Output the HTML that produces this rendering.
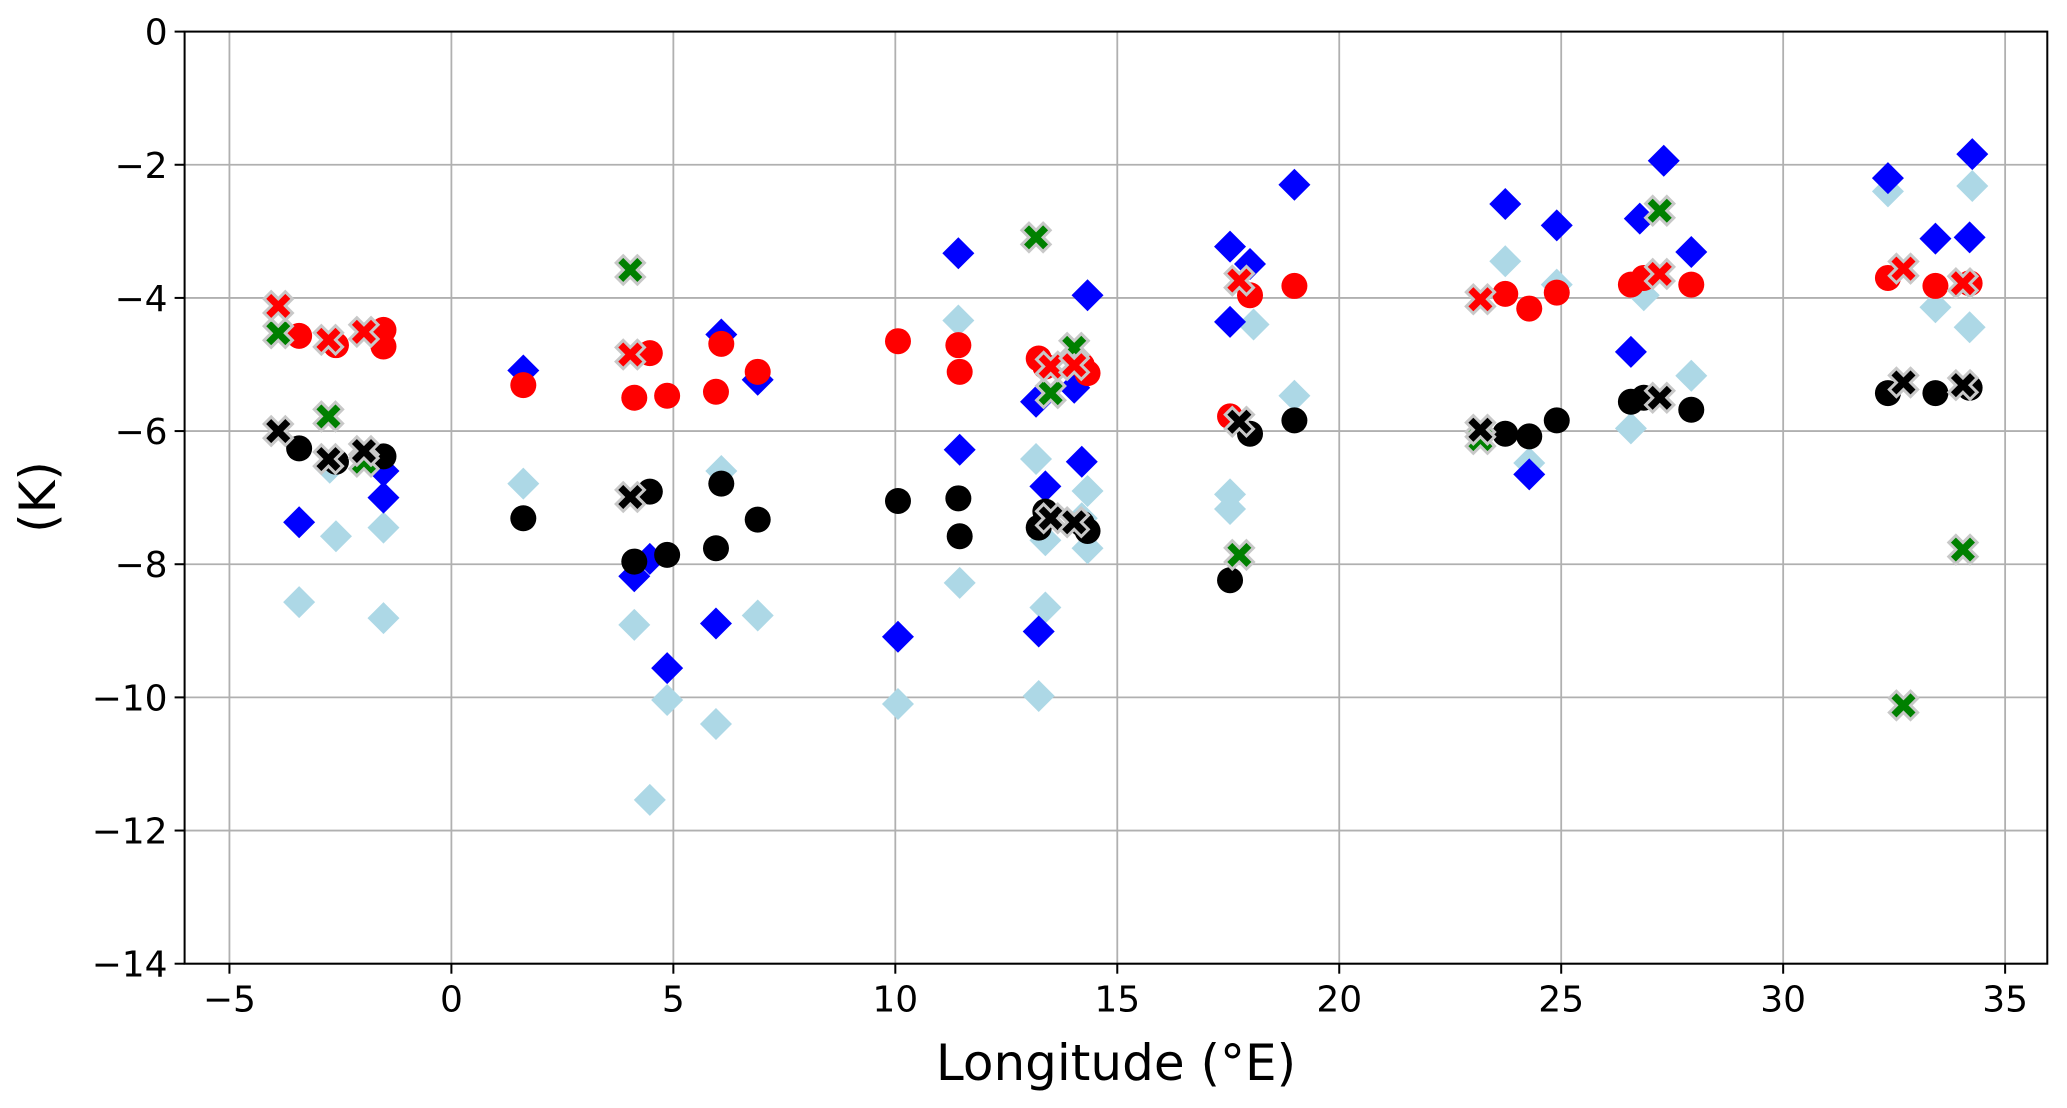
<!DOCTYPE html>
<html><head><meta charset="utf-8"><style>
html,body{margin:0;padding:0;background:#fff;}
svg{display:block;font-family:"DejaVu Sans","Liberation Sans",sans-serif;}
</style></head><body>
<svg id="chart" width="2067" height="1108" viewBox="0 0 2067 1108" xmlns="http://www.w3.org/2000/svg">
<g id="grid"></g>
<g id="marks"></g>
<rect x="184.6" y="31.6" width="1862.7" height="932.1" fill="none" stroke="#000" stroke-width="2"/>
<g id="ticks"></g>
<text x="1116" y="1080" font-size="50" text-anchor="middle">Longitude (°E)</text>
<text transform="translate(55,497) rotate(-90)" font-size="50" text-anchor="middle">(K)</text>
</svg>
<script>
const xTicks=[-5,0,5,10,15,20,25,30,35];
const yTicks=[0,-2,-4,-6,-8,-10,-12,-14];
const xTickLabels=["−5","0","5","10","15","20","25","30","35"];
const yTickLabels=["0","−2","−4","−6","−8","−10","−12","−14"];
const lbX=[-3.43,-2.6,-1.53,-1.53,-2.74,1.62,4.12,4.47,4.86,5.96,6.08,6.9,10.06,11.42,11.45,13.17,13.23,13.38,13.38,14.2,14.33,14.33,17.54,17.54,18.07,18.99,23.74,24.28,24.9,26.57,26.86,27.93,32.36,33.43,34.2,34.26];
const lbY=[-8.57,-7.58,-7.45,-8.81,-6.55,-6.79,-8.91,-11.54,-10.04,-10.4,-6.6,-8.77,-10.1,-4.34,-8.28,-6.42,-9.98,-8.65,-7.64,-7.31,-6.9,-7.76,-6.95,-7.17,-4.4,-5.47,-3.45,-6.48,-3.8,-5.96,-3.96,-5.17,-2.4,-4.14,-4.44,-2.32];
const bX=[-3.43,-1.53,-1.53,1.62,4.12,4.47,4.86,5.96,6.08,6.9,10.06,11.42,11.45,13.17,13.23,13.38,14.03,14.2,14.33,17.54,17.54,17.99,18.99,23.74,24.28,24.9,26.57,26.77,27.31,27.93,32.36,33.43,34.2,34.26];
const bY=[-7.37,-7.0,-6.6,-5.09,-8.18,-7.92,-9.56,-8.89,-4.55,-5.23,-9.09,-3.33,-6.28,-5.56,-9.01,-6.83,-5.35,-6.46,-3.96,-3.23,-4.36,-3.49,-2.3,-2.59,-6.65,-2.91,-4.81,-2.81,-1.94,-3.31,-2.2,-3.11,-3.09,-1.84];
const rcX=[-3.43,-2.6,-1.53,-1.53,1.62,4.12,4.47,4.86,5.96,6.08,6.9,10.06,11.42,11.45,13.23,13.38,14.2,14.33,17.54,17.99,18.99,23.74,24.28,24.9,26.57,26.86,27.93,32.36,33.43,34.2];
const rcY=[-4.57,-4.71,-4.48,-4.73,-5.31,-5.5,-4.83,-5.47,-5.41,-4.69,-5.11,-4.65,-4.71,-5.11,-4.91,-5.03,-5.01,-5.13,-5.78,-3.96,-3.82,-3.94,-4.16,-3.92,-3.8,-3.7,-3.8,-3.7,-3.82,-3.78];
const kcX=[-3.43,-2.6,-1.53,1.62,4.12,4.47,4.86,5.96,6.08,6.9,10.06,11.42,11.45,13.23,13.38,14.2,14.33,17.54,17.99,18.99,23.74,24.28,24.9,26.57,26.86,27.93,32.36,33.43,34.2];
const kcY=[-6.26,-6.46,-6.38,-7.31,-7.96,-6.91,-7.86,-7.76,-6.79,-7.33,-7.05,-7.01,-7.58,-7.45,-7.21,-7.39,-7.5,-8.24,-6.04,-5.84,-6.04,-6.08,-5.84,-5.56,-5.5,-5.68,-5.43,-5.43,-5.35];
const rxX=[-3.9,-2.77,-1.97,4.03,13.5,14.03,17.75,23.18,27.22,32.71,34.05];
const rxY=[-4.12,-4.63,-4.51,-4.85,-5.03,-5.01,-3.74,-4.02,-3.64,-3.56,-3.78];
const kxX=[-3.9,-2.77,-1.97,4.03,13.5,14.03,17.75,23.18,27.22,32.71,34.05];
const kxY=[-6.0,-6.42,-6.3,-6.99,-7.31,-7.37,-5.86,-5.98,-5.5,-5.27,-5.31];
const gxX=[-3.9,-2.77,-1.97,4.03,13.17,13.5,14.03,17.75,23.18,27.22,32.71,34.05];
const gxY=[-4.53,-5.78,-6.46,-3.58,-3.09,-5.43,-4.75,-7.86,-6.12,-2.69,-10.12,-7.78];

const L=184.6,R=2047.3,T=31.6,B=963.7,X0=-6.01,X1=35.95,Y0=-14,Y1=0;
const sx=v=>L+(v-X0)/(X1-X0)*(R-L);
const sy=v=>B-(v-Y0)/(Y1-Y0)*(B-T);
const NS="http://www.w3.org/2000/svg";
function mk(tag,attrs,parent){const e=document.createElementNS(NS,tag);for(const k in attrs)e.setAttribute(k,attrs[k]);parent.appendChild(e);return e;}
const grid=document.getElementById('grid'),ticks=document.getElementById('ticks'),marks=document.getElementById('marks');
xTicks.forEach((t,i)=>{
  const x=sx(t);
  const g=mk('line',{x1:x,x2:x,y1:T,y2:B,stroke:'#b0b0b0','stroke-width':1.8},grid);
  
  
  const tk=mk('line',{x1:x,x2:x,y1:B,y2:B+10,stroke:'#000','stroke-width':2},ticks);
  
  
  const lb=mk('text',{x:x,y:B+48,'font-size':36,'text-anchor':'middle'},ticks);
  lb.textContent=xTickLabels[i];
  
  
});
yTicks.forEach((t,i)=>{
  const y=sy(t);
  const g=mk('line',{x1:L,x2:R,y1:y,y2:y,stroke:'#b0b0b0','stroke-width':1.8},grid);
  
  
  const tk=mk('line',{x1:L-10,x2:L,y1:y,y2:y,stroke:'#000','stroke-width':2},ticks);
  
  
  const lb=mk('text',{x:L-17,y:y+13,'font-size':36,'text-anchor':'end'},ticks);
  lb.textContent=yTickLabels[i];
  
  
});
function diamonds(xs,ys,color,name){
  xs.forEach((v,i)=>{const x=sx(v),y=sy(ys[i]),r=16;
    const p=mk('polygon',{points:`${x},${y-r} ${x+r},${y} ${x},${y+r} ${x-r},${y}`,fill:color},marks);
    
    });
}
function circles(xs,ys,color,name){
  xs.forEach((v,i)=>{
    const c=mk('circle',{cx:sx(v),cy:sy(ys[i]),r:13,fill:color},marks);
    
    });
}
function crosses(xs,ys,color,name){
  const r=15,w=5;
  const pts=[[-w,-r],[w,-r],[w,-w],[r,-w],[r,w],[w,w],[w,r],[-w,r],[-w,w],[-r,w],[-r,-w],[-w,-w]].map(p=>p.join(',')).join(' ');
  xs.forEach((v,i)=>{
    const p=mk('polygon',{points:pts,fill:color,stroke:'#c8c8c8','stroke-width':3,transform:`translate(${sx(v)},${sy(ys[i])}) rotate(45)`},marks);
    
    });
}
diamonds(lbX,lbY,'#add8e6','lightblue-diamond');
diamonds(bX,bY,'#0000ff','blue-diamond');
circles(rcX,rcY,'#ff0000','red-circle');
circles(kcX,kcY,'#000000','black-circle');
crosses(gxX,gxY,'#008000','green-cross');
crosses(rxX,rxY,'#ff0000','red-cross');
crosses(kxX,kxY,'#000000','black-cross');
</script>
</body></html>
